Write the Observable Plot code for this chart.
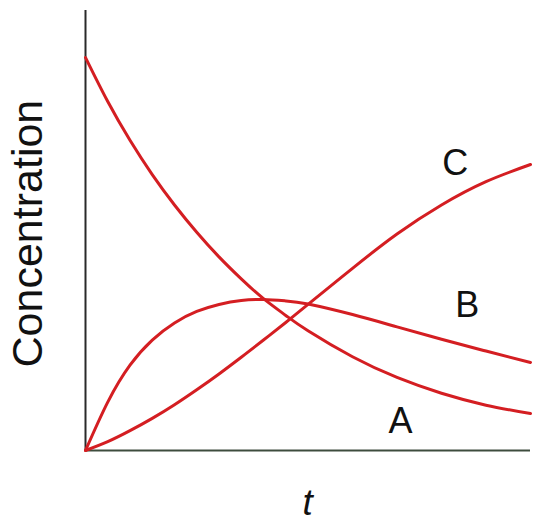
<!DOCTYPE html>
<html>
<head>
<meta charset="utf-8">
<script src="https://cdn.jsdelivr.net/npm/d3@7"></script>
<script src="https://cdn.jsdelivr.net/npm/@observablehq/plot@0.6"></script>
<style>
  html, body { margin: 0; padding: 0; background: #fff; }
  #chart svg { display: block; }
</style>
</head>
<body>
<div id="chart"></div>
<script>
// time grid (arbitrary units)
const time = [0, 0.5, 1, 1.5, 2, 2.5, 3, 3.5, 4, 4.5, 5, 6, 7, 8, 9, 10];
// concentrations (arbitrary units)
const concA = [8.93, 7.93, 7.05, 6.27, 5.58, 4.96, 4.40, 3.90, 3.45, 3.07, 2.72, 2.13, 1.66, 1.30, 1.03, 0.84];
const concB = [0, 1.10, 1.94, 2.51, 2.90, 3.16, 3.32, 3.41, 3.43, 3.40, 3.33, 3.09, 2.81, 2.53, 2.26, 2.00];
const concC = [0, 0.20, 0.45, 0.73, 1.04, 1.38, 1.74, 2.12, 2.51, 2.91, 3.32, 4.14, 4.92, 5.58, 6.11, 6.50];
const seriesNames = ["A", "B", "C"];
const labelT = [7.08, 8.58, 8.31];
const labelC = [0.66, 3.30, 6.52];

const seriesVals = [concA, concB, concC];
const rows = seriesNames.flatMap((s, i) => time.map((t, j) => ({series: s, t, c: seriesVals[i][j]})));
const labels = seriesNames.map((s, i) => ({name: s, t: labelT[i], c: labelC[i]}));

const plot = Plot.plot({
  width: 533,
  height: 524,
  marginLeft: 85,
  marginRight: 3,
  marginTop: 10,
  marginBottom: 74,
  x: {domain: [0, 10], axis: null},
  y: {domain: [0, 10], axis: null},
  style: {fontFamily: "'Liberation Sans', Arial, sans-serif", background: "#fff"},
  marks: [
    Plot.ruleX([0], {stroke: "#2a2a2a", strokeWidth: 2}),
    Plot.ruleY([0], {stroke: "#3e4d3e", strokeWidth: 2}),
    Plot.line(rows, {x: "t", y: "c", z: "series", stroke: "#d41e22", strokeWidth: 3, curve: "natural"}),
    Plot.text(labels, {x: "t", y: "c", text: "name", fontSize: 36, fill: "#111"}),
    Plot.text(["Concentration"], {x: -1.28, y: 4.93, text: d => d, rotate: -90, fontSize: 43, fill: "#111", clip: false}),
    Plot.text(["t"], {x: 4.99, y: -1.2, text: d => d, fontSize: 37, fontStyle: "italic", fill: "#111", clip: false})
  ]
});
document.getElementById("chart").appendChild(plot);
</script>
</body>
</html>
